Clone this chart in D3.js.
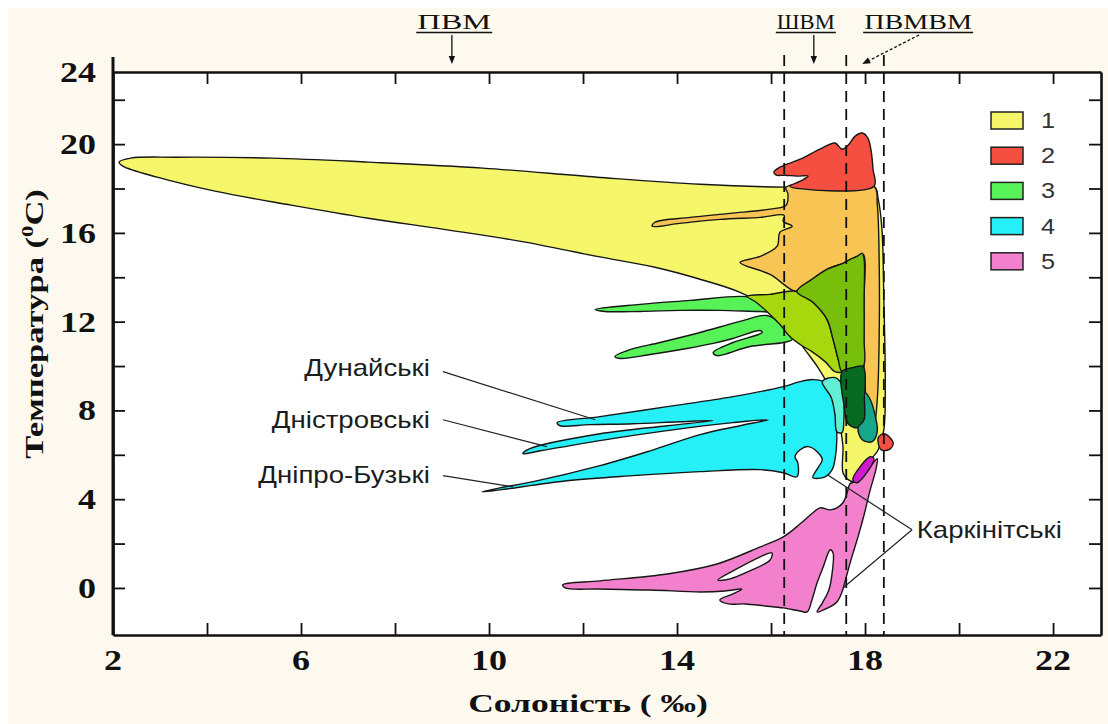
<!DOCTYPE html>
<html>
<head>
<meta charset="utf-8">
<script src="https://d3js.org/d3.v7.min.js"></script>
<style>
body { margin: 0; background: #fff; }
</style>
</head>
<body>
<svg id="chart" width="1108" height="724"></svg>
<script>
"use strict";

// T-S diagram: salinity (‰) on x, temperature (°C) on y.
// Every outline below is a list of [salinity, temperature] points.

var xTicks = [4, 6, 8, 10, 12, 14, 16, 18, 20, 22];
var yTicks = [0, 2, 4, 6, 8, 10, 12, 14, 16, 18, 20, 22];
var xLabels = [2, 6, 10, 14, 18, 22];
var yLabels = [0, 4, 8, 12, 16, 20, 24];
var legendKeys = ["1", "2", "3", "4", "5"];
var massBoundaries = [16.28, 17.6, 18.4];

var waterMasses = [
    { name: "ПВМ", label: 9.26, arrowFrom: 9.21, arrowTo: 9.21 },
    { name: "ШВМ", label: 16.74, arrowFrom: 16.91, arrowTo: 16.91 },
    { name: "ПВМВМ", label: 19.13, arrowFrom: 19.15, arrowTo: 17.94 }
];

// 1 - summer (yellow), base outline incl. the neck
var zoneYellow = [[2.13,19.19],[2.38,19.37],[3.36,19.41],[5.38,19.37],[7.43,19.19],[9.87,18.92],
    [12.30,18.51],[14.49,18.19],[16.32,18.06],[18.19,18.10],[18.28,17.52],[18.36,16.16],[18.40,13.00],
    [18.43,9.39],[18.40,7.13],[18.28,6.23],[18.17,5.91],[17.96,5.46],[17.79,4.79],[17.64,4.88],
    [17.53,5.19],[17.53,6.37],[17.47,7.27],[17.38,8.26],[17.21,9.16],[17.00,9.93],[16.72,10.74],
    [16.40,11.65],[15.98,12.55],[15.34,13.32],[14.49,13.91],[13.53,14.45],[12.30,14.94],[10.68,15.62],
    [9.04,16.16],[7.43,16.66],[5.79,17.25],[4.17,17.88],[2.94,18.51],[2.21,19.01]];

// overlap of 1 and 2
var zoneOrange = [[16.32,18.06],[18.19,18.10],[18.26,17.29],[18.30,14.81],[18.30,11.20],[18.26,8.49],
    [18.19,7.36],[18.06,8.04],[17.98,9.84],[17.98,13.00],[17.96,15.03],[17.83,14.94],[17.53,14.63],
    [17.19,14.36],[16.87,13.91],[16.55,13.36],[15.98,14.13],[15.34,14.67],[15.77,14.94],[16.13,15.40],
    [16.19,16.03],[16.45,16.30],[16.26,16.52],[16.28,16.79],[15.77,16.70],[14.91,16.61],[14.06,16.43],
    [13.47,16.30],[13.53,16.48],[14.28,16.70],[15.13,16.88],[15.98,17.07],[16.32,17.25],[16.36,17.74]];

// 2 - red
var zoneRed = [[16.06,18.74],[16.19,18.96],[16.62,19.32],[17.04,19.77],[17.36,20.05],[17.51,19.77],
    [17.64,19.95],[17.79,20.36],[17.94,20.50],[18.06,20.27],[18.13,19.68],[18.17,18.87],[18.19,18.10],
    [16.40,18.10],[16.62,18.33],[16.79,18.56],[16.55,18.56],[16.30,18.60],[16.11,18.60]];
var redBlob = [[18.28,6.77],[18.40,6.95],[18.53,6.77],[18.60,6.50],[18.51,6.23],[18.34,6.23]];

// 3 - green tongues
var greenUpper = [[12.26,12.55],[13.21,12.78],[14.28,12.96],[15.34,13.14],[15.77,13.05],[16.09,12.78],
    [16.11,12.46],[15.77,12.46],[14.91,12.51],[14.06,12.51],[13.21,12.46],[12.47,12.46]];
var greenLower = [[12.68,10.43],[13.00,10.74],[13.64,11.06],[14.49,11.51],[15.34,12.01],[15.91,12.28],
    [16.15,12.01],[16.32,11.56],[16.45,11.20],[16.26,11.06],[15.55,10.88],[14.85,10.47],[14.77,10.61],
    [15.19,11.06],[15.81,11.51],[15.77,11.60],[15.19,11.24],[14.77,11.02],[14.21,10.79],[13.43,10.52],
    [12.79,10.34]];
var zoneYellowGreen = [[15.49,13.14],[15.98,13.23],[16.55,13.36],[16.89,12.87],[17.19,12.10],[17.32,11.20],
    [17.43,10.29],[17.51,9.75],[17.36,9.75],[17.15,10.20],[16.87,10.65],[16.62,10.97],[16.40,11.33],
    [16.19,11.87],[15.91,12.46],[15.66,12.91]];
var zoneMidGreen = [[16.55,13.36],[16.87,13.91],[17.19,14.36],[17.53,14.63],[17.68,14.81],[17.83,14.94],
    [17.94,15.08],[17.98,14.81],[17.98,13.00],[17.98,11.20],[17.96,9.98],[17.74,9.93],[17.51,9.75],
    [17.43,10.29],[17.32,11.20],[17.19,12.10],[16.89,12.87]];

// 4 - cyan (Danube, Dniester, Dnieper-Bug tongues)
var zoneCyan = [[11.45,7.45],[12.36,7.72],[13.79,8.17],[15.19,8.62],[16.26,9.07],[16.62,9.30],[16.89,9.39],
    [17.11,9.30],[17.26,8.94],[17.34,8.26],[17.38,7.58],[17.40,6.68],[17.36,5.78],[17.30,5.33],[17.15,5.01],
    [16.89,4.97],[17.00,5.42],[17.09,5.78],[16.98,6.14],[16.79,6.37],[16.62,6.23],[16.51,5.91],[16.57,5.64],
    [16.55,5.01],[16.26,5.19],[15.77,5.33],[14.49,5.24],[13.06,5.06],[11.66,4.83],[10.23,4.42],[9.85,4.33],
    [10.23,4.51],[10.94,4.79],[12.36,5.51],[13.43,6.18],[14.49,6.91],[15.34,7.31],[15.94,7.58],[15.19,7.45],
    [13.79,7.09],[12.36,6.64],[11.09,6.18],[10.72,6.05],[10.87,6.28],[12.36,6.95],[13.79,7.31],[14.77,7.54],
    [14.06,7.49],[13.06,7.40],[12.15,7.36],[11.51,7.31]];
var zoneLightTeal = [[17.09,9.30],[17.36,9.48],[17.51,9.16],[17.55,8.49],[17.55,7.58],[17.51,7.00],
    [17.40,7.04],[17.36,7.81],[17.28,8.58]];
var zoneDarkGreen = [[17.51,9.75],[17.74,9.93],[17.96,9.98],[18.00,8.80],[17.98,7.58],[17.85,7.22],
    [17.64,7.40],[17.55,8.26]];
var zoneDarkTeal = [[18.00,8.80],[18.11,8.49],[18.21,7.81],[18.26,7.04],[18.15,6.59],[17.94,6.68],
    [17.85,7.22],[17.98,7.58]];

// 5 - pink (winter)
var zonePink = [[11.57,0.14],[12.36,0.32],[13.79,0.63],[14.85,1.08],[15.77,1.85],[16.26,2.30],[16.62,2.89],
    [16.89,3.39],[17.04,3.61],[17.26,3.52],[17.40,3.61],[17.53,3.84],[17.62,4.29],[17.68,4.70],[17.79,4.79],
    [17.94,5.06],[18.17,5.64],[18.26,5.82],[18.23,5.33],[18.11,4.42],[17.98,3.30],[17.85,2.30],[17.72,1.40],
    [17.60,0.50],[17.51,-0.18],[17.40,-0.63],[17.21,-0.90],[16.98,-1.08],[17.09,-0.68],[17.23,-0.09],
    [17.30,0.68],[17.32,1.58],[17.26,1.72],[17.11,0.95],[16.98,0.23],[16.87,-0.54],[16.77,-1.08],
    [16.62,-1.04],[16.26,-0.90],[15.87,-0.81],[15.45,-0.72],[15.09,-0.72],[14.91,-0.54],[15.19,-0.27],
    [15.38,-0.05],[15.02,-0.14],[14.49,-0.18],[13.43,-0.09],[12.36,-0.05],[11.62,0.00]];
var pinkHole = [[14.87,0.36],[15.23,0.81],[15.77,1.40],[16.02,1.58],[15.98,1.26],[15.55,0.77],[15.13,0.41]];
var magentaStrip = [[17.74,4.88],[18.11,5.91],[18.19,5.82],[17.83,4.74]];

// river plume labels and their pointer lines
var riverLabels = [
    { name: "Дунайські", at: [8.74, 9.93], from: [9.02, 9.75], to: [[12.26, 7.58]] },
    { name: "Дністровські", at: [8.74, 7.58], from: [9.02, 7.58], to: [[11.23, 6.37]] },
    { name: "Дніпро-Бузькі", at: [8.74, 5.10], from: [9.02, 5.06], to: [[10.51, 4.56]] },
    { name: "Каркінітські", at: [19.10, 2.62], from: [19.00, 2.62], to: [[17.20, 5.10], [17.53, 0.00]] }
];

// drawing

var fills = {
    yellow: "#f6f66b", orange: "#f8c554", red: "#f54f42", green: "#57f257", ygreen: "#a7d80e",
    mgreen: "#77bf0b", cyan: "#25f0f7", lteal: "#62efd3", dgreen: "#066b20", dteal: "#15a78a",
    pink: "#f380cc", hole: "#ffffff", magenta: "#d21bd0"
};
var legendFills = ["#f6f66b", "#f54f42", "#57f257", "#25f0f7", "#f380cc"];

var layers = [
    ["yellow", zoneYellow], ["orange", zoneOrange], ["red", zoneRed],
    ["green", greenUpper], ["green", greenLower], ["ygreen", zoneYellowGreen], ["mgreen", zoneMidGreen],
    ["cyan", zoneCyan], ["lteal", zoneLightTeal], ["dgreen", zoneDarkGreen], ["dteal", zoneDarkTeal],
    ["red", redBlob], ["pink", zonePink], ["hole", pinkHole], ["magenta", magentaStrip]
];

var serif = "'Liberation Serif', 'Times New Roman', serif",
    sans = "'Liberation Sans', Arial, sans-serif";

var plot = { left: 113, right: 1101, top: 72, bottom: 635 };

var x = d3.scaleLinear().domain([2, 23.02]).range([plot.left, plot.right]);
var y = d3.scaleLinear().domain([-2.12, 23.25]).range([plot.bottom, plot.top]);

var svg = d3.select("#chart");

// text with an optional horizontal stretch (the source figure is wide-set)
function addText(g, str, px, py, o) {
    o = o || {};
    return g.append("text")
        .attr("transform", "translate(" + px + "," + py + ") rotate(" + (o.rot || 0) + ") scale(" + (o.sx || 1) + ",1)")
        .attr("text-anchor", o.anchor || "middle")
        .style("font-family", o.font || serif)
        .style("font-size", (o.size || 20) + "px")
        .style("font-weight", o.weight || "normal")
        .attr("fill", o.fill || "#111")
        .text(str);
}

svg.append("rect").attr("width", 1108).attr("height", 724).attr("fill", "#fff");
svg.append("rect").attr("x", 8).attr("y", 8).attr("width", 1100).attr("height", 716).attr("fill", "#fdf9ee");
svg.append("rect")
    .attr("x", plot.left).attr("y", plot.top)
    .attr("width", plot.right - plot.left).attr("height", plot.bottom - plot.top)
    .attr("fill", "#fff");

// filled T-S areas (centripetal Catmull-Rom keeps the hand-drawn look without overshoot)
var outline = d3.line()
    .x(function (d) { return x(d[0]); })
    .y(function (d) { return y(d[1]); })
    .curve(d3.curveCatmullRomClosed.alpha(0.5));

svg.append("g").attr("class", "zones")
    .selectAll("path")
    .data(layers)
    .join("path")
    .attr("d", function (d) { return outline(d[1]); })
    .attr("fill", function (d) { return fills[d[0]]; })
    .attr("stroke", "#161616")
    .attr("stroke-width", 1.4)
    .attr("stroke-linejoin", "round");

// dashed water-mass boundaries
svg.append("g").selectAll("line")
    .data(massBoundaries)
    .join("line")
    .attr("x1", function (d) { return x(d); }).attr("x2", function (d) { return x(d); })
    .attr("y1", 55).attr("y2", plot.bottom)
    .attr("stroke", "#111").attr("stroke-width", 1.8)
    .attr("stroke-dasharray", "11,7");

// frame with inward ticks on all four sides
function styleAxis(g) {
    g.select(".domain").attr("stroke", "#111").attr("stroke-width", 2.6);
    g.selectAll(".tick line").attr("stroke", "#111").attr("stroke-width", 1.8);
}
svg.append("g").attr("transform", "translate(0," + plot.bottom + ")")
    .call(d3.axisBottom(x).tickValues(xTicks).tickSize(-12).tickSizeOuter(0).tickFormat(""))
    .call(styleAxis);
svg.append("g").attr("transform", "translate(0," + plot.top + ")")
    .call(d3.axisTop(x).tickValues(xTicks).tickSize(-12).tickSizeOuter(0).tickFormat(""))
    .call(styleAxis);
svg.append("g").attr("transform", "translate(" + plot.left + ",0)")
    .call(d3.axisLeft(y).tickValues(yTicks).tickSize(-12).tickSizeOuter(0).tickFormat(""))
    .call(styleAxis);
svg.append("g").attr("transform", "translate(" + plot.right + ",0)")
    .call(d3.axisRight(y).tickValues(yTicks).tickSize(-12).tickSizeOuter(0).tickFormat(""))
    .call(styleAxis);
svg.append("line")
    .attr("x1", plot.left).attr("x2", plot.left).attr("y1", 57).attr("y2", plot.bottom)
    .attr("stroke", "#111").attr("stroke-width", 3);

// tick labels
var labels = svg.append("g");
xLabels.forEach(function (v) {
    addText(labels, String(v), x(v), 670, { size: 30, weight: "bold", sx: 1.2 });
});
yLabels.forEach(function (v) {
    addText(labels, String(v), 96, Math.max(y(v), plot.top) + 10, { size: 30, weight: "bold", sx: 1.2, anchor: "end" });
});

// axis titles
addText(labels, "Солоність ( ‰)", 588, 712, { size: 25, weight: "bold", sx: 1.42 });
var yTitle = addText(labels, "", 43, 324, { size: 26, weight: "bold", sx: 1.33, rot: -90 });
yTitle.append("tspan").text("Температура (");
yTitle.append("tspan").attr("dy", -10).style("font-size", "17px").text("0");
yTitle.append("tspan").attr("dy", 10).text("С)");

// water mass names above the frame
var massNotes = svg.append("g");
var topWidths = { "ПВМ": 74, "ШВМ": 58, "ПВМВМ": 108 };
waterMasses.forEach(function (m) {
    var cx = x(m.label);
    massNotes.append("text")
        .attr("x", cx).attr("y", 29)
        .attr("text-anchor", "middle")
        .attr("textLength", topWidths[m.name])
        .attr("lengthAdjust", "spacingAndGlyphs")
        .style("font-family", serif).style("font-size", "20px")
        .attr("fill", "#111")
        .text(m.name);
    massNotes.append("line")
        .attr("x1", cx - topWidths[m.name] / 2 - 1).attr("x2", cx + topWidths[m.name] / 2 + 1)
        .attr("y1", 32.5).attr("y2", 32.5)
        .attr("stroke", "#111").attr("stroke-width", 1.6);

    var x0 = x(m.arrowFrom), x1 = x(m.arrowTo), y0 = 35, y1 = 64;
    var ang = Math.atan2(y1 - y0, x1 - x0), len = 8, half = 3.2;
    var bx = x1 - len * Math.cos(ang), by = y1 - len * Math.sin(ang);
    massNotes.append("line")
        .attr("x1", x0).attr("y1", y0).attr("x2", bx).attr("y2", by)
        .attr("stroke", "#111").attr("stroke-width", 1.3)
        .attr("stroke-dasharray", x0 === x1 ? null : "3,2");
    massNotes.append("path")
        .attr("d", "M" + x1 + "," + y1 +
            "L" + (bx + half * Math.sin(ang)) + "," + (by - half * Math.cos(ang)) +
            "L" + (bx - half * Math.sin(ang)) + "," + (by + half * Math.cos(ang)) + "Z")
        .attr("fill", "#111");
});

// plume labels with pointers
var notes = svg.append("g");
riverLabels.forEach(function (r) {
    r.to.forEach(function (t) {
        notes.append("line")
            .attr("x1", x(r.from[0])).attr("y1", y(r.from[1]))
            .attr("x2", x(t[0])).attr("y2", y(t[1]))
            .attr("stroke", "#222").attr("stroke-width", 1.2);
    });
    var right = r.at[0] < r.from[0];
    addText(notes, r.name, x(r.at[0]), y(r.at[1]) + 8,
        { font: sans, size: 24, sx: 1.15, anchor: right ? "end" : "start", fill: "#1c1c1c" });
});

// legend
var legend = svg.append("g");
legendKeys.forEach(function (k, i) {
    var ly = 112 + i * 35.2;
    legend.append("rect")
        .attr("x", 991).attr("y", ly).attr("width", 32).attr("height", 17)
        .attr("fill", legendFills[i]).attr("stroke", "#222").attr("stroke-width", 1.5);
    addText(legend, k, 1041, ly + 16, { font: sans, size: 22, sx: 1.15, anchor: "start", fill: "#333" });
});
</script>
</body>
</html>
